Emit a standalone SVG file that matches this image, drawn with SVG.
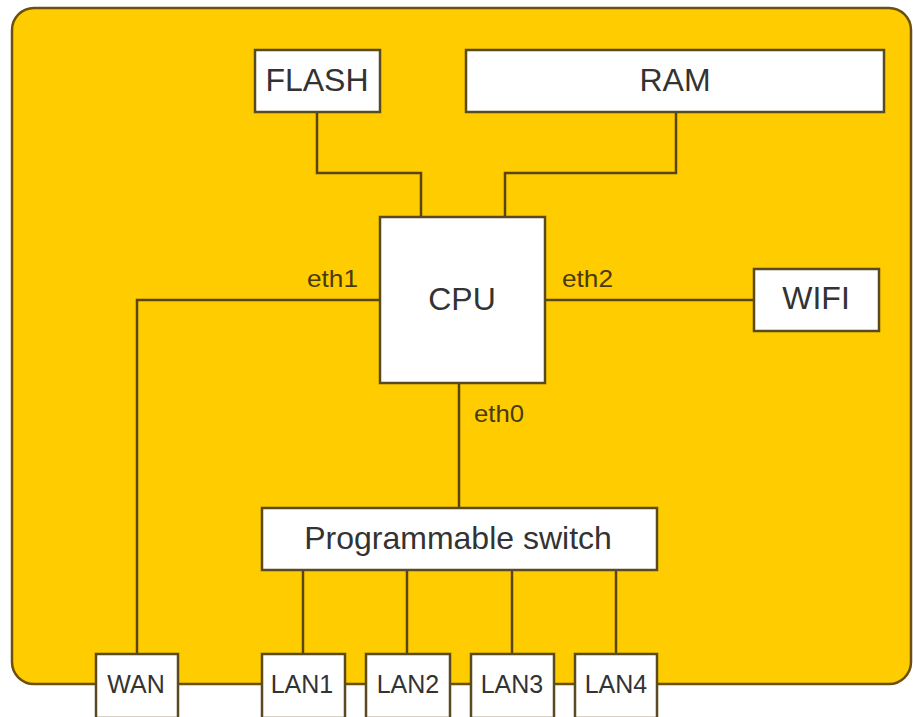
<svg xmlns="http://www.w3.org/2000/svg" width="913" height="717" viewBox="0 0 913 717">
<style>
.box{fill:#ffffff;stroke:#5a4a20;stroke-width:2.5}
.lbl{font-family:"Liberation Sans",Arial,sans-serif;fill:#333333;text-anchor:middle}
.big{font-size:32px}
.sm{font-size:25px}
.eth{font-family:"Liberation Sans",Arial,sans-serif;fill:#4a3a10;font-size:24px}
.wire{fill:none;stroke:#5a4410;stroke-width:2.5}
</style>
<rect width="913" height="717" fill="#ffffff"/>
<g id="board">
<rect x="12" y="8" width="899" height="676" rx="22" ry="22" fill="#ffcc00" stroke="#6b5010" stroke-width="2.5"/>
</g>
<g id="connectors">
<polyline class="wire" points="317,112 317,173 421,173 421,217"/>
<polyline class="wire" points="676,112 676,173 505,173 505,217"/>
<polyline class="wire" points="380,300 137,300 137,654"/>
<line class="wire" x1="545" y1="300" x2="754" y2="300"/>
<line class="wire" x1="459" y1="383" x2="459" y2="508"/>
<line class="wire" x1="303" y1="570" x2="303" y2="654"/>
<line class="wire" x1="407" y1="570" x2="407" y2="654"/>
<line class="wire" x1="512" y1="570" x2="512" y2="654"/>
<line class="wire" x1="616" y1="570" x2="616" y2="654"/>
<text class="eth" x="307" y="287" textLength="51" lengthAdjust="spacingAndGlyphs">eth1</text>
<text class="eth" x="562" y="287" textLength="51" lengthAdjust="spacingAndGlyphs">eth2</text>
<text class="eth" x="474" y="422" textLength="50" lengthAdjust="spacingAndGlyphs">eth0</text>
</g>
<g id="flash"><rect class="box" x="255" y="50" width="125" height="62"/><text class="lbl big" x="317" y="91">FLASH</text></g>
<g id="ram"><rect class="box" x="466" y="50" width="418" height="62"/><text class="lbl big" x="675" y="91">RAM</text></g>
<g id="cpu"><rect class="box" x="380" y="217" width="165" height="166"/><text class="lbl big" x="462" y="310">CPU</text></g>
<g id="wifi"><rect class="box" x="754" y="269" width="125" height="62"/><text class="lbl big" x="816" y="309">WIFI</text></g>
<g id="switch"><rect class="box" x="262" y="508" width="395" height="62"/><text class="lbl big" x="458" y="549">Programmable switch</text></g>
<g id="wan"><rect class="box" x="96" y="654" width="82" height="64"/><text class="lbl sm" x="136" y="693">WAN</text></g>
<g id="lan1"><rect class="box" x="262" y="654" width="83" height="64"/><text class="lbl sm" x="302" y="693">LAN1</text></g>
<g id="lan2"><rect class="box" x="366" y="654" width="84" height="64"/><text class="lbl sm" x="408" y="693">LAN2</text></g>
<g id="lan3"><rect class="box" x="471" y="654" width="83" height="64"/><text class="lbl sm" x="512" y="693">LAN3</text></g>
<g id="lan4"><rect class="box" x="575" y="654" width="82" height="64"/><text class="lbl sm" x="616" y="693">LAN4</text></g>
</svg>
